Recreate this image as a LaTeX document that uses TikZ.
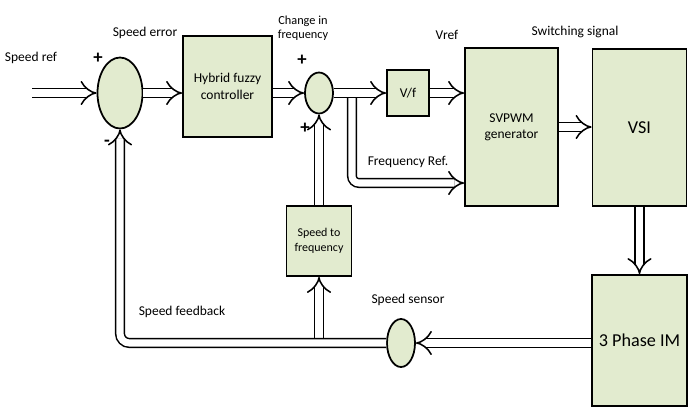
\documentclass[tikz,border=0pt]{standalone}
\usepackage{fontspec}
\setmainfont{Carlito}
\usetikzlibrary{arrows.meta,shapes.geometric,positioning}
\definecolor{boxgreen}{RGB}{226,235,207}

\begin{document}
\begin{tikzpicture}[
        x=0.03cm, y=-0.03cm,
        % Blocks
        block/.style={
            rectangle, draw=black, line width=1.5pt, fill=boxgreen,
            align=center, inner sep=2pt, font=\fontsize{11.5}{14}\selectfont
        },
        % Summing points / sensor
        sumnode/.style={
            ellipse, draw=black, line width=1.5pt, fill=boxgreen, inner sep=0pt
        },
        % Signal labels
        lbl/.style={align=center, font=\fontsize{11.5}{12.5}\selectfont},
        % Signs
        sgn/.style={font=\fontsize{16}{16}\selectfont\bfseries},
        % Double-line arrows
        arr/.style={double, double distance=6pt, line width=1.3pt, -{Implies}}
    ]
        \useasboundingbox (0,0) rectangle (688,407);

        % Forward path
        \coordinate (spref) at (32,93);
        \node [sumnode, minimum width=1.35cm, minimum height=2.13cm] (sum1) at (120,93) {};
        \node [block, minimum width=2.67cm, minimum height=3.03cm] (fuzzy) at (227.5,86.5) {Hybrid fuzzy\\controller};
        \node [sumnode, minimum width=0.84cm, minimum height=1.23cm] (sum2) at (319,93) {};
        \node [block, minimum width=1.26cm, minimum height=1.38cm] (vf) at (408,93) {V/f};
        \node [block, minimum width=2.79cm, minimum height=4.74cm] (svpwm) at (511.5,127) {SVPWM\\generator};
        \node [block, minimum width=2.82cm, minimum height=4.71cm, font=\fontsize{15.5}{18}\selectfont] (vsi) at (639.5,127.5) {VSI};
        \node [block, minimum width=2.85cm, minimum height=3.93cm, font=\fontsize{15.5}{18}\selectfont] (im) at (639.5,340.5) {3 Phase IM};

        % Feedback path
        \node [sumnode, minimum width=0.84cm, minimum height=1.44cm] (sensor) at (401,343) {};
        \node [block, minimum width=1.95cm, minimum height=2.1cm, font=\fontsize{10.2}{12.5}\selectfont] (stf) at (319,241) {Speed to\\frequency};

        % Junctions
        \coordinate (j1) at (352,93);
        \coordinate (j2) at (sensor -| stf);
        \coordinate (frqy) at (0,183);

        % Labels
        \node [lbl] (tref) at (31,58) {Speed ref};
        \node [lbl] (terr) at (145,33) {Speed error};
        \node [lbl, font=\fontsize{10.5}{12}\selectfont] (tchg) at (303,28) {Change in\\frequency};
        \node [lbl] (tvref) at (447,35) {Vref};
        \node [lbl] (tsw) at (575,32) {Switching signal};
        \node [lbl] (tfrq) at (408,162) {Frequency Ref.};
        \node [lbl] (tsen) at (408,300) {Speed sensor};
        \node [lbl] (tfb) at (182,312) {Speed feedback};
        \node [sgn] (p1) at (98,58) {+};
        \node [sgn] (m1) at (107,143) {-};
        \node [sgn] (p2) at (302,60) {+};
        \node [sgn] (p3) at (305,128) {+};

        % Arrows
        \draw [arr] (spref) -- (sum1);
        \draw [arr] (sum1) -- (sum1 -| fuzzy.west);
        \draw [arr] (fuzzy.east |- sum2) -- (sum2);
        \draw [arr, rounded corners=6pt] ([yshift=-3pt]j1) |- (svpwm.west |- frqy);
        \draw [arr] (sum2) -- (j1) -- (vf);
        \draw [arr] (vf) -- (vf -| svpwm.west);
        \draw [arr] (svpwm) -- (svpwm -| vsi.west);
        \draw [arr] (vsi.south) -- (vsi.south |- im.north);
        \draw [arr] (im.west |- sensor) -- (sensor);
        \draw [arr] ([yshift=3pt]j2) -- (stf);
        \draw [arr, rounded corners=8pt] (sensor) -- (sensor -| sum1) -- (sum1);
        \draw [arr] (stf) -- (sum2);

    \end{tikzpicture}
\end{document}
